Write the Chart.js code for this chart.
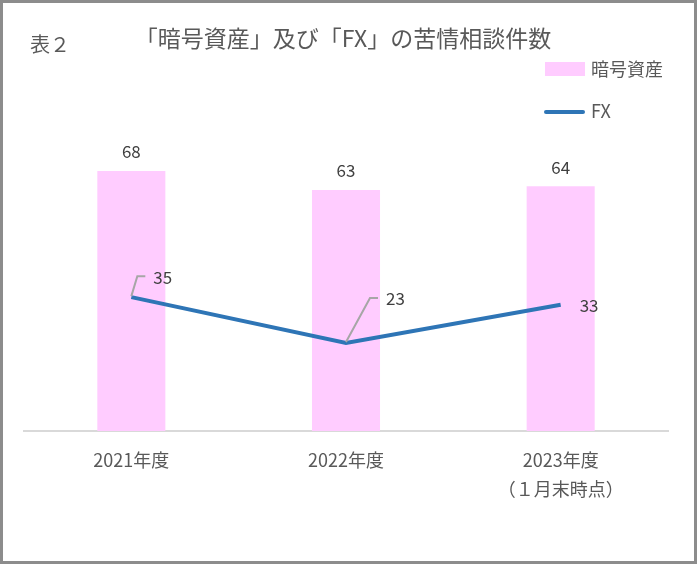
<!DOCTYPE html>
<html>
<head>
<meta charset="utf-8">
<script src="https://cdn.jsdelivr.net/npm/chart.js@4/dist/chart.umd.min.js"></script>
<style>
  body { margin: 0; background: #fff; }
  canvas { display: block; }
</style>
</head>
<body>
<canvas id="chart" width="697" height="564"></canvas>
<script>
'use strict'

// data
const categories = [['2021年度'], ['2022年度'], ['2023年度', '（１月末時点）']];
const cryptoCounts = [68, 63, 64];
const fxCounts = [35, 23, 33];
const seriesNames = ['暗号資産', 'FX'];
const chartTitle = '「暗号資産」及び「FX」の苦情相談件数';
const tableLabel = '表２';

const FONT = '"Noto Sans CJK JP", "Noto Sans", sans-serif';
const PINK = '#FFCCFF';
const BLUE = '#2E75B6';
const TEXT = '#595959';

// label placement for the FX points (leader lines like the Excel original)
const fxLabelStyle = [
    { dx: 22, dy: -20, leader: true },
    { dx: 40, dy: -44, leader: true },
    { dx: 19, dy: 1, leader: false }
];

const decorations = {
    id: 'decorations',
    beforeDraw(chart) {
        const ctx = chart.ctx;
        ctx.save();
        ctx.fillStyle = '#fff';
        ctx.fillRect(0, 0, chart.width, chart.height);
        ctx.restore();
    },
    afterDatasetsDraw(chart) {
        const ctx = chart.ctx;
        ctx.save();
        ctx.font = '17px ' + FONT;
        ctx.fillStyle = '#404040';
        ctx.textBaseline = 'middle';

        // bar values
        const bars = chart.getDatasetMeta(1).data;
        ctx.textAlign = 'center';
        bars.forEach((bar, i) => {
            ctx.fillText(String(cryptoCounts[i]), bar.x, bar.y - 19);
        });

        // line values with leaders
        const pts = chart.getDatasetMeta(0).data;
        ctx.textAlign = 'left';
        pts.forEach((pt, i) => {
            const s = fxLabelStyle[i];
            if (s.leader) {
                ctx.strokeStyle = '#A6A6A6';
                ctx.lineWidth = 2;
                ctx.beginPath();
                ctx.moveTo(pt.x, pt.y - 1);
                ctx.lineTo(pt.x + s.dx - 16, pt.y + s.dy - 1);
                ctx.lineTo(pt.x + s.dx - 8, pt.y + s.dy - 1);
                ctx.stroke();
            }
            ctx.fillText(String(fxCounts[i]), pt.x + s.dx, pt.y + s.dy);
        });
        ctx.restore();
    },
    afterDraw(chart) {
        const ctx = chart.ctx;
        ctx.save();
        // titles
        ctx.fillStyle = TEXT;
        ctx.textBaseline = 'middle';
        ctx.textAlign = 'left';
        ctx.font = '20px ' + FONT;
        ctx.fillText(tableLabel, 30, 44);
        ctx.textAlign = 'center';
        ctx.font = '23px ' + FONT;
        ctx.fillText(chartTitle, 343, 38);

        // legend
        ctx.textAlign = 'left';
        ctx.font = '18px ' + FONT;
        ctx.fillStyle = PINK;
        ctx.fillRect(545, 62, 40, 14);
        ctx.fillStyle = TEXT;
        ctx.fillText(seriesNames[0], 591, 69);
        ctx.strokeStyle = BLUE;
        ctx.lineWidth = 4;
        ctx.lineCap = 'round';
        ctx.beginPath();
        ctx.moveTo(546, 112);
        ctx.lineTo(583, 112);
        ctx.stroke();
        ctx.fillText(seriesNames[1], 591, 111);

        // frame
        ctx.strokeStyle = '#8C8C8C';
        ctx.lineWidth = 3;
        ctx.lineCap = 'butt';
        ctx.strokeRect(1.5, 1.5, chart.width - 3, chart.height - 3);
        ctx.restore();
    }
};

new Chart(document.getElementById('chart'), {
    type: 'bar',
    data: {
        labels: categories,
        datasets: [
            {
                type: 'line',
                label: seriesNames[1],
                data: fxCounts,
                borderColor: BLUE,
                borderWidth: 4,
                pointRadius: 0,
                tension: 0,
                order: 0
            },
            {
                label: seriesNames[0],
                data: cryptoCounts,
                backgroundColor: PINK,
                barPercentage: 0.317,
                categoryPercentage: 1,
                order: 1
            }
        ]
    },
    options: {
        responsive: false,
        animation: false,
        layout: { padding: { left: 24, right: 29, top: 125, bottom: 0 } },
        plugins: {
            legend: { display: false },
            title: { display: false },
            tooltip: { enabled: false }
        },
        scales: {
            y: { display: false, min: 0, max: 80 },
            x: {
                grid: { display: true, drawOnChartArea: false, drawTicks: false },
                border: { display: true, color: '#D9D9D9', width: 2 },
                ticks: {
                    color: TEXT,
                    font: { family: FONT, size: 18, lineHeight: 1.6 },
                    padding: 15,
                    maxRotation: 0
                },
                afterFit: (scale) => { scale.height = 133; }
            }
        }
    },
    plugins: [decorations]
});
</script>
</body>
</html>
